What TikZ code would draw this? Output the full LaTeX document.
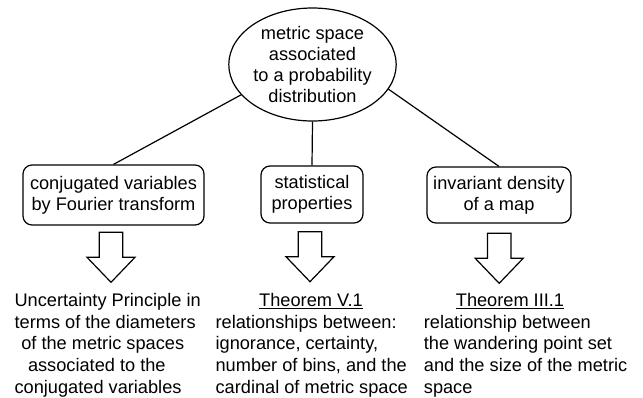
\documentclass[tikz,border=0pt]{standalone}
\usepackage{fontspec}
\setmainfont{Liberation Sans}
\usetikzlibrary{shapes.geometric}
\newcommand\diafont{\fontsize{18.2}{20.8}\selectfont}
\newcommand\lowfont{\fontsize{18.2}{21.7}\selectfont}
\begin{document}
\begin{tikzpicture}[x=1pt,y=-1pt,line width=1.2pt,
  topnode/.style={draw,ellipse,inner sep=0pt,minimum width=151pt,minimum height=113pt,align=center,font=\diafont},
  box/.style={draw,rounded corners=9pt,inner sep=0pt,align=center,font=\diafont},
  lowtext/.style={inner sep=0pt,align=left,font=\lowfont,anchor=base west},
  titletext/.style={inner sep=0pt,font=\lowfont,anchor=base},
  blockarrow/.pic={\draw[line join=miter] (-11.7,0) -- (-11.7,25) -- (-24,25) -- (0,50) -- (24,25) -- (11.7,25) -- (11.7,0) -- cycle;}]
\useasboundingbox (0,0) rectangle (643,397);
\node[topnode] (root) at (312.5,64.5) {metric space\\associated\\to a probability\\distribution};
\node[box,minimum width=181pt,minimum height=60pt] (b1) at (113.5,195) {conjugated variables\\by Fourier transform};
\node[box,minimum width=102pt,minimum height=57pt] (b2) at (312,194.5) {statistical\\properties};
\node[box,minimum width=144pt,minimum height=56pt] (b3) at (499,195) {invariant density\\of a map};
\draw (root.-157.7) -- (b1.north);
\draw (root.south) -- (b2.north);
\draw (root.-18.4) -- (b3.north);
\pic at (111,232.3) {blockarrow};
\pic at (310,231.7) {blockarrow};
\pic at (499.2,233.3) {blockarrow};
\node[lowtext] (t1) at (14,393.3) {Uncertainty Principle in\\terms of the diameters\\\hspace*{6.7pt}of the metric spaces\\\hspace*{13.4pt}associated to the\\conjugated variables};
\node[titletext] (h2) at (311,306.5) {\underline{Theorem V.1}};
\node[lowtext] (t2) at (215,393.3) {relationships between:\\ignorance, certainty,\\number of bins, and the\\cardinal of metric space};
\node[titletext] (h3) at (510,306.5) {\underline{Theorem III.1}};
\node[lowtext] (t3) at (423.3,393.3) {relationship between\\the wandering point set\\and the size of the metric\\space};
\end{tikzpicture}
\end{document}
